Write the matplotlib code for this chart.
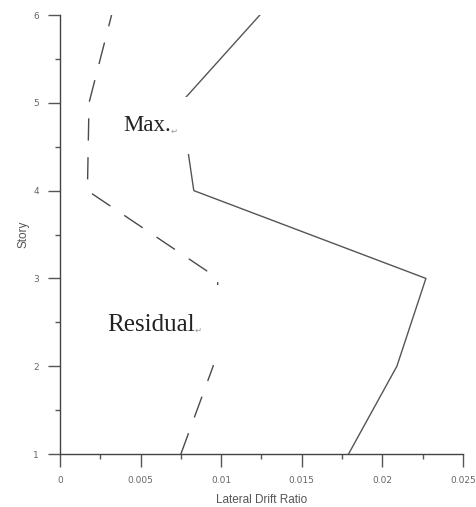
import matplotlib.pyplot as plt
from matplotlib.ticker import MultipleLocator, FixedFormatter, FixedLocator

# story levels and drift ratios
stories = [1, 2, 3, 4, 5, 6]
max_drift = [0.0179, 0.0209, 0.0227, 0.0083, 0.0075, 0.0124]
residual_drift = [0.0075, 0.0095, 0.0098, 0.0017, 0.0018, 0.0032]

x_ticks = [0, 0.005, 0.01, 0.015, 0.02, 0.025]
x_ticklabels = ['0', '0.005', '0.01', '0.015', '0.02', '0.025']
y_ticks = [1, 2, 3, 4, 5, 6]

fig = plt.figure(figsize=(4.77, 5.07), dpi=100)
ax = fig.add_axes([0.1258, 0.1045, 0.8448, 0.8659])

ax.plot(max_drift, stories, color='#555555', lw=1.0, zorder=2)
ax.plot(residual_drift, stories, color='#4a4a4a', lw=1.0,
        linestyle=(0, (16, 12)), zorder=2)

ax.set_xlim(0, 0.025)
ax.set_ylim(1, 6)

for side in ('top', 'right'):
    ax.spines[side].set_visible(False)
for side in ('left', 'bottom'):
    ax.spines[side].set_color('#444444')
    ax.spines[side].set_linewidth(1.0)

ax.xaxis.set_major_locator(FixedLocator(x_ticks))
ax.xaxis.set_major_formatter(FixedFormatter(x_ticklabels))
ax.xaxis.set_minor_locator(MultipleLocator(0.0025))
ax.yaxis.set_major_locator(FixedLocator(y_ticks))
ax.yaxis.set_minor_locator(MultipleLocator(0.5))

ax.tick_params(axis='both', which='major', direction='out', length=9,
               width=1, color='#555555', labelsize=6.5, labelcolor='#666666')
ax.tick_params(axis='both', which='minor', direction='out', length=3.5,
               width=1, color='#555555')
ax.tick_params(axis='x', which='major', pad=7)
ax.tick_params(axis='y', which='major', pad=6)

ax.set_xlabel('Lateral Drift Ratio', fontsize=8.5, color='#555555',
              family='Liberation Sans', labelpad=6)
ax.set_ylabel('Story', fontsize=8.5, color='#555555',
              family='Liberation Sans', labelpad=3)

# curve labels with white boxes over the lines
t_max = ax.text(0.0039, 4.74, 'Max.', fontsize=16.5, family='Liberation Serif',
                color='#222222', va='center', ha='left', zorder=5,
                bbox=dict(boxstyle='square,pad=0.8', fc='white', ec='none'))
t_res = ax.text(0.0029, 2.47, 'Residual', fontsize=18,
                family='Liberation Serif', color='#222222', va='center',
                ha='left', zorder=5,
                bbox=dict(boxstyle='square,pad=1.15', fc='white', ec='none'))
for t in (t_max, t_res):
    ax.annotate('\u21b5', xy=(1, 0.25), xycoords=t, fontsize=6,
                color='#999999', va='center', ha='left', zorder=6)

fig.savefig('out.png', dpi=100)
